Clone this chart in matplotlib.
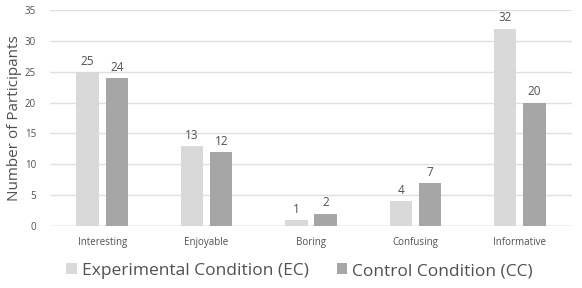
import matplotlib.pyplot as plt
import numpy as np

# Data
categories = ["Interesting", "Enjoyable", "Boring", "Confusing", "Informative"]
ec_values = [25, 13, 1, 4, 32]
cc_values = [24, 12, 2, 7, 20]
series_names = ["Experimental Condition (EC)", "Control Condition (CC)"]

plt.rcParams['font.family'] = ['Open Sans', 'DejaVu Sans']
text_col = "#505050"

fig = plt.figure(figsize=(5.82, 2.88), dpi=100)
ax = fig.add_axes([50/582, 1 - 226/288, 522/582, 216/288])

x = np.arange(len(categories))
w = 0.215
b1 = ax.bar(x - 0.14, ec_values, w, color="#d9d9d9", zorder=3)
b2 = ax.bar(x + 0.14, cc_values, w, color="#a6a6a6", zorder=3)

for bars in (b1, b2):
    ax.bar_label(bars, padding=3, fontsize=8.5, color=text_col)

ax.set_xlim(-0.5, len(categories) - 0.5)
ax.set_ylim(0, 35)
ax.set_yticks(range(0, 36, 5))
ax.set_xticks(x)
ax.set_xticklabels(categories)
ax.tick_params(axis="both", length=0, labelsize=7, labelcolor=text_col)
ax.tick_params(axis="x", pad=8)
ax.tick_params(axis="y", pad=10)
ax.yaxis.grid(True, color="#e0e0e0", linewidth=1, zorder=0)
for s in ax.spines.values():
    s.set_visible(False)
ax.axhline(0, color="#d0d0d0", linewidth=1, zorder=2)

ax.set_ylabel("Number of Participants", fontsize=11, color=text_col, labelpad=2)

fig.legend([b1, b2], series_names, loc="center", bbox_to_anchor=(0.515, 1 - 271/288),
           ncol=2, frameon=False, fontsize=12.5, labelcolor=text_col,
           handlelength=0.6, handleheight=0.6, handletextpad=0.3, columnspacing=1.6)

fig.savefig("out.png", dpi=100)
